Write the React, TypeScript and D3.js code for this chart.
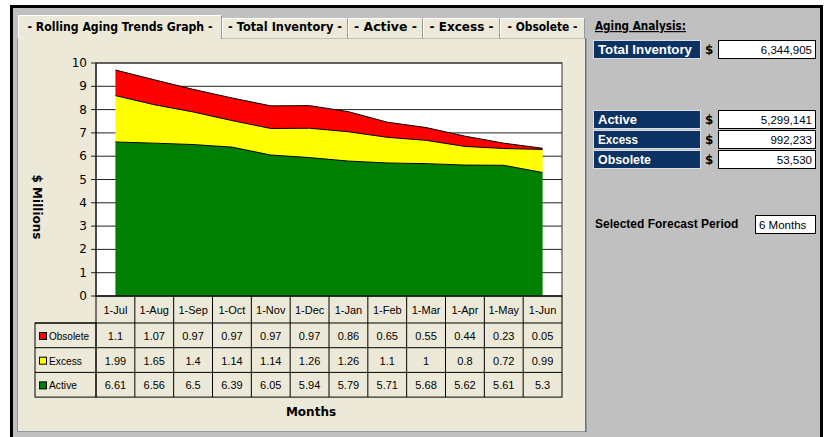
import React from "react";
import * as d3 from "d3";

const months = ["1-Jul", "1-Aug", "1-Sep", "1-Oct", "1-Nov", "1-Dec", "1-Jan", "1-Feb", "1-Mar", "1-Apr", "1-May", "1-Jun"];
const obsolete = [1.1, 1.07, 0.97, 0.97, 0.97, 0.97, 0.86, 0.65, 0.55, 0.44, 0.23, 0.05];
const excess = [1.99, 1.65, 1.4, 1.14, 1.14, 1.26, 1.26, 1.1, 1, 0.8, 0.72, 0.99];
const active = [6.61, 6.56, 6.5, 6.39, 6.05, 5.94, 5.79, 5.71, 5.68, 5.62, 5.61, 5.3];
const yTicks = [0, 1, 2, 3, 4, 5, 6, 7, 8, 9, 10];
const seriesNames = ["Obsolete", "Excess", "Active"];
const seriesColors = ["#ff0000", "#ffff00", "#008000"];
const tabs = ["- Rolling Aging Trends Graph -", "- Total Inventory -", "- Active -", "- Excess -", "- Obsolete -"];
const summaryLabels = ["Total Inventory", "Active", "Excess", "Obsolete"];
const summaryValues = ["6,344,905", "5,299,141", "992,233", "53,530"];
const forecastPeriod = "6 Months";

const FONT = "Tahoma, 'DejaVu Sans', Verdana, sans-serif";
const LFONT = "'Liberation Sans', Arial, sans-serif";

export default function App() {
  const W = 825, H = 437;
  const plotL = 96, plotR = 562, plotT = 63, plotB = 296;
  const x = d3.scaleBand<string>().domain(months).range([plotL, plotR]);
  const y = d3.scaleLinear().domain([0, 10]).range([plotB, plotT]);
  const cx = (m: string) => (x(m) as number) + x.bandwidth() / 2;

  const rows = months.map((m, i) => ({ m, a: active[i], e: excess[i], o: obsolete[i] }));
  const stack = d3.stack<any>().keys(["a", "e", "o"])(rows as any);
  const area = d3.area<any>().x((d: any) => cx(d.data.m)).y0((d) => y(d[0])).y1((d) => y(d[1]));
  const topLine = d3.line<any>().x((d: any) => cx(d.data.m)).y((d) => y(d[1]));
  const colorByKey: Record<string, string> = { a: "#008000", e: "#ffff00", o: "#ff0000" };

  const tableRows = [obsolete, excess, active];
  const rowTop = 323, rowH = 24.7;
  const legendL = 35;
  const legendW = [40, 33, 28];

  const tabEdges = [18, 222, 348, 423, 500, 585];
  const tabTextW = [185, 114, 63, 64, 70];

  const summaryY = [40, 110, 130, 150];
  const labelW = [94, 39, 40, 53];

  return (
    <svg width={W} height={H} style={{ position: "absolute", left: 0, top: 0, display: "block" }} xmlns="http://www.w3.org/2000/svg">
      <rect x={0} y={0} width={W} height={H} fill="#ffffff" />
      <rect x={10} y={5} width={813} height={440} fill="#c0c0c0" />
      <rect x={11.5} y={6.5} width={810} height={440} fill="none" stroke="#000" strokeWidth={3} />

      <rect x={17.5} y={38.5} width={569} height={393} fill="#ece9d8" stroke="#919b9c" strokeWidth={1} />
      <line x1={585.5} y1={39} x2={585.5} y2={432} stroke="#6f6f6f" />
      {tabs.map((t, i) => {
        const l = tabEdges[i], r = tabEdges[i + 1];
        const isActive = i === 0;
        const top = isActive ? 15 : 18;
        const bottom = isActive ? 39 : 38;
        return (
          <g key={t}>
            <rect x={l + 0.5} y={top + 0.5} width={r - l - 1} height={bottom - top} fill="#ece9d8" stroke="none" />
            <path d={`M${l + 0.5},${bottom} V${top + 0.5} H${r - 0.5}`} fill="none" stroke="#ffffff" />
            <path d={`M${r - 0.5},${top + 0.5} V${bottom}`} fill="none" stroke="#919b9c" />
            <text x={(l + r) / 2} y={31} textAnchor="middle" fontFamily={FONT} fontWeight="bold" fontSize={12} fill="#000" textLength={tabTextW[i]} lengthAdjust="spacingAndGlyphs">{t}</text>
          </g>
        );
      })}

      <rect x={plotL} y={plotT} width={plotR - plotL} height={plotB - plotT} fill="#ffffff" />
      {yTicks.map((t) => (
        <g key={t}>
          <line x1={plotL - 5} x2={plotR} y1={y(t)} y2={y(t)} stroke="#222" strokeWidth={1} />
          <text x={87} y={y(t) + 4} textAnchor="end" fontFamily={FONT} fontSize={12} fill="#000">{t}</text>
        </g>
      ))}
      {stack.map((s: any) => (
        <path key={s.key} d={area(s) as string} fill={colorByKey[s.key]} stroke="none" />
      ))}
      {stack.map((s: any) => (
        <path key={"l" + s.key} d={topLine(s) as string} fill="none" stroke="#000" strokeWidth={1} />
      ))}
      <rect x={plotL} y={plotT} width={plotR - plotL} height={plotB - plotT} fill="none" stroke="#333" strokeWidth={1} />
      <line x1={plotL} x2={plotL} y1={plotT} y2={plotB} stroke="#000" />

      <rect x={plotL} y={plotB} width={plotR - plotL} height={rowTop + rowH * 3 - plotB} fill="none" stroke="#000" />
      <rect x={legendL} y={rowTop} width={plotL - legendL} height={rowH * 3} fill="none" stroke="#000" />
      {months.map((m, i) => (
        <g key={m}>
          {i > 0 && <line x1={x(m) as number} x2={x(m) as number} y1={plotB} y2={rowTop + rowH * 3} stroke="#000" />}
          <text x={cx(m)} y={314} textAnchor="middle" fontFamily={LFONT} fontSize={11} fill="#000">{m}</text>
        </g>
      ))}
      {tableRows.map((vals, r) => {
        const ry = rowTop + r * rowH;
        return (
          <g key={r}>
            <line x1={legendL} x2={plotR} y1={ry} y2={ry} stroke="#000" />
            <rect x={39.5} y={ry + 9.5} width={7} height={7} fill={seriesColors[r]} stroke="#000" />
            <text x={49} y={ry + 17} fontFamily={LFONT} fontSize={11} fill="#000" textLength={legendW[r]} lengthAdjust="spacingAndGlyphs">{seriesNames[r]}</text>
            {vals.map((v, i) => (
              <text key={i} x={cx(months[i])} y={ry + 17} textAnchor="middle" fontFamily={LFONT} fontSize={11} fill="#000">{String(v)}</text>
            ))}
          </g>
        );
      })}

      <text x={311} y={416} textAnchor="middle" fontFamily={FONT} fontWeight="bold" fontSize={12} fill="#000">Months</text>
      <text transform={`translate(33,207) rotate(90)`} textAnchor="middle" fontFamily={FONT} fontWeight="bold" fontSize={12} fill="#000">$ Millions</text>

      <text x={595} y={30} fontFamily={FONT} fontWeight="bold" fontSize={12} fill="#000" textDecoration="underline" textLength={91} lengthAdjust="spacingAndGlyphs">Aging Analysis:</text>
      {summaryLabels.map((l, i) => {
        const sy = summaryY[i];
        return (
          <g key={l}>
            <rect x={593.5} y={sy + 0.5} width={107} height={18} fill="#0c3163" stroke="#d8dde6" />
            <text x={598} y={sy + 14} fontFamily={LFONT} fontWeight="bold" fontSize={12} fill="#ffffff" textLength={labelW[i]} lengthAdjust="spacingAndGlyphs">{l}</text>
            <text x={705} y={sy + 14} fontFamily={FONT} fontWeight="bold" fontSize={12} fill="#000">$</text>
            <rect x={718.5} y={sy + 0.5} width={97} height={18} fill="#ffffff" stroke="#000" />
            <text x={812} y={sy + 14} textAnchor="end" fontFamily={LFONT} fontSize={11.5} fill="#000">{summaryValues[i]}</text>
          </g>
        );
      })}
      <text x={595} y={228} fontFamily={LFONT} fontWeight="bold" fontSize={12} fill="#000">Selected Forecast Period</text>
      <rect x={755.5} y={215.5} width={60} height={18} fill="#ffffff" stroke="#000" />
      <text x={759} y={229} fontFamily={LFONT} fontSize={11.5} fill="#000">{forecastPeriod}</text>
    </svg>
  );
}
